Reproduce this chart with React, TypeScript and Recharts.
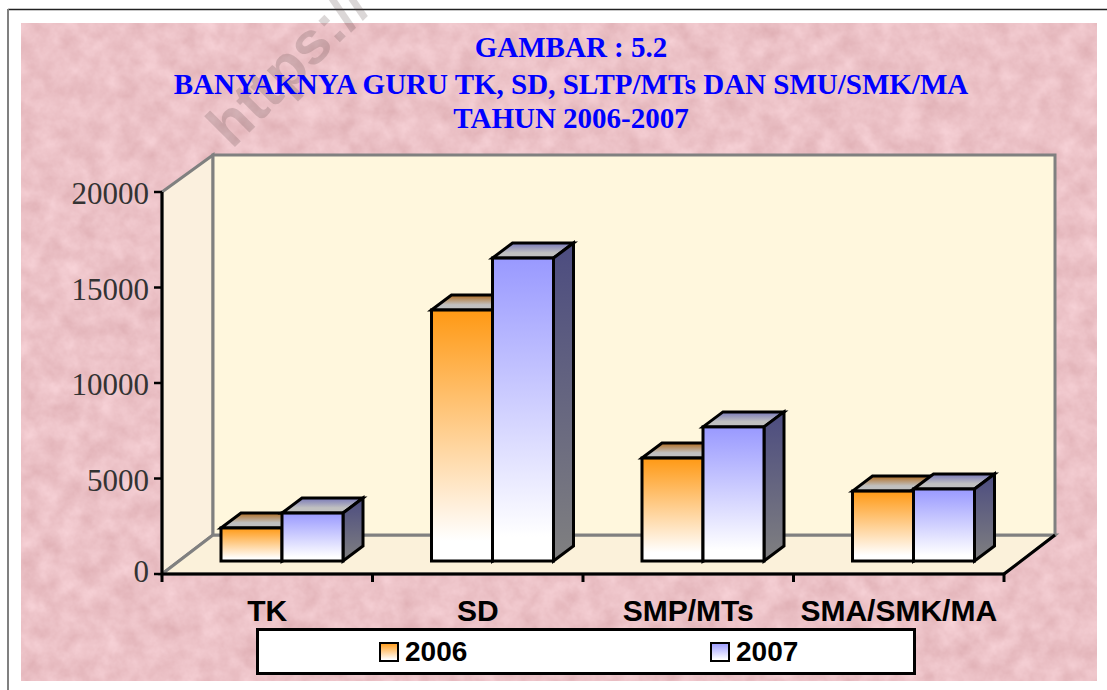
import { BarChart, Bar, XAxis, YAxis, Legend } from "recharts";

const categories = ["TK", "SD", "SMP/MTs", "SMA/SMK/MA"];
const values2006 = [1730, 13140, 5390, 3660];
const values2007 = [2510, 15860, 7020, 3770];
const yTicks = [0, 5000, 10000, 15000, 20000];
const titleLines = [
  "GAMBAR : 5.2",
  "BANYAKNYA GURU TK, SD, SLTP/MTs DAN SMU/SMK/MA",
  "TAHUN 2006-2007",
];

const tableData = categories.map((name, i) => ({
  name,
  y2006: values2006[i],
  y2007: values2007[i],
}));

const WIDTH = 1107;
const HEIGHT = 690;

// plot box, in page pixels
const LEFT = 162;
const RIGHT = 1004;
const TOP = 192;
const BOTTOM = 574;
const BAND = (RIGHT - LEFT) / categories.length;

// 3D look
const WALL_DX = 51;
const WALL_DY = 39;
const BAR_SHIFT_X = 15;
const BAR_SHIFT_Y = 13;
const BAR_DX = 20;
const BAR_DY = 15;

function poly(points: number[][]) {
  return points.map((p) => p.join(",")).join(" ");
}

function Backdrop() {
  const wallStroke = "#808080";
  return (
    <svg
      width={WIDTH}
      height={HEIGHT}
      style={{ position: "absolute", left: 0, top: 0 }}
    >
      <defs>
        <filter id="mottle" x="0" y="0" width="100%" height="100%" colorInterpolationFilters="sRGB">
          <feTurbulence type="fractalNoise" baseFrequency="0.05" numOctaves={4} seed={7} />
          <feColorMatrix
            type="matrix"
            values="0.11 0 0 0 0.87  0.16 0 0 0 0.68  0.16 0 0 0 0.70  0 0 0 0 1"
          />
        </filter>
      </defs>
      <rect width={WIDTH} height={HEIGHT} fill="#ffffff" />
      <line x1={8} y1={9.5} x2={WIDTH} y2={9.5} stroke="#222222" strokeWidth={1.5} />
      <line x1={8} y1={9} x2={8} y2={HEIGHT} stroke="#808080" strokeWidth={2} />
      <rect x={21} y={23} width={1076} height={658} filter="url(#mottle)" />
      <text
        x={232}
        y={150}
        transform="rotate(-45 232 150)"
        fontFamily="Liberation Sans"
        fontWeight="bold"
        fontSize={60}
        fill="#5a4a4a"
        fillOpacity={0.22}
      >
        https://
      </text>
      {/* left wall, floor, back wall */}
      <polygon
        points={poly([
          [LEFT, TOP],
          [LEFT + WALL_DX, TOP - WALL_DY + 2],
          [LEFT + WALL_DX, BOTTOM - WALL_DY],
          [LEFT, BOTTOM],
        ])}
        fill="#fbf0de"
        stroke={wallStroke}
        strokeWidth={3}
      />
      <polygon
        points={poly([
          [LEFT, BOTTOM],
          [RIGHT, BOTTOM],
          [RIGHT + WALL_DX, BOTTOM - WALL_DY],
          [LEFT + WALL_DX, BOTTOM - WALL_DY],
        ])}
        fill="#fbf1da"
        stroke={wallStroke}
        strokeWidth={3}
      />
      <rect
        x={LEFT + WALL_DX}
        y={TOP - WALL_DY + 2}
        width={RIGHT - LEFT}
        height={BOTTOM - TOP - 2}
        fill="#fff7dd"
        stroke={wallStroke}
        strokeWidth={3}
      />
      <line
        x1={RIGHT}
        y1={BOTTOM}
        x2={RIGHT + WALL_DX}
        y2={BOTTOM - WALL_DY}
        stroke="#000000"
        strokeWidth={3}
      />
    </svg>
  );
}

function Bar3D(props: any) {
  const { x, y, width, height, front, top } = props;
  const fx = x + BAR_SHIFT_X;
  const fy = y - BAR_SHIFT_Y;
  const fb = fy + height;
  const topFace = [
    [fx, fy],
    [fx + BAR_DX, fy - BAR_DY],
    [fx + width + BAR_DX, fy - BAR_DY],
    [fx + width, fy],
  ];
  const sideFace = [
    [fx + width, fy],
    [fx + width + BAR_DX, fy - BAR_DY],
    [fx + width + BAR_DX, fb - BAR_DY],
    [fx + width, fb],
  ];
  return (
    <g stroke="#000000" strokeWidth={3} strokeLinejoin="miter">
      <polygon points={poly(topFace)} fill={`url(#${top})`} />
      <polygon points={poly(sideFace)} fill="url(#sideShade)" />
      <rect x={fx} y={fy} width={width} height={height} fill={`url(#${front})`} />
    </g>
  );
}

function CategoryTick(props: any) {
  const { x, payload, index } = props;
  return (
    <g>
      <line x1={x - BAND / 2} y1={BOTTOM} x2={x - BAND / 2} y2={BOTTOM + 8} stroke="#000000" strokeWidth={3} />
      {index === categories.length - 1 && (
        <line x1={x + BAND / 2} y1={BOTTOM} x2={x + BAND / 2} y2={BOTTOM + 8} stroke="#000000" strokeWidth={3} />
      )}
      <text
        x={x}
        y={621}
        textAnchor="middle"
        fontFamily="Liberation Sans"
        fontWeight="bold"
        fontSize={30}
        fill="#000000"
      >
        {payload.value}
      </text>
    </g>
  );
}

function ValueTick(props: any) {
  const { x, y, payload } = props;
  // the lowest label sits a little above its tick in the reference
  const lift = payload.value === 0 ? 4 : 0;
  return (
    <text
      x={x}
      y={y - lift}
      dy={12}
      textAnchor="end"
      fontFamily="Liberation Serif"
      fontSize={31}
      fill="#333333"
    >
      {payload.value}
    </text>
  );
}

function LegendBox({ payload }: any) {
  return (
    <div
      style={{
        boxSizing: "border-box",
        width: 660,
        height: 47,
        background: "#ffffff",
        border: "3px solid #000000",
        display: "flex",
        alignItems: "center",
        fontFamily: "Liberation Sans",
        fontWeight: "bold",
        fontSize: 28,
        color: "#000000",
      }}
    >
      {(payload || []).map((entry: any) => (
        <div
          key={entry.value}
          style={{ flex: "0 0 331px", paddingLeft: 120, boxSizing: "border-box", display: "flex", alignItems: "center" }}
        >
          <svg width={20} height={20} style={{ marginRight: 6 }}>
            <rect
              x={1}
              y={1}
              width={18}
              height={18}
              fill={`url(#front${entry.value})`}
              stroke="#000000"
              strokeWidth={2}
            />
          </svg>
          {entry.value}
        </div>
      ))}
    </div>
  );
}

function Title() {
  const tops = [32, 69, 103];
  return (
    <>
      {titleLines.map((line, i) => (
        <div
          key={line}
          style={{
            position: "absolute",
            left: 0,
            width: 1142,
            top: tops[i],
            textAlign: "center",
            fontFamily: "Liberation Serif",
            fontWeight: "bold",
            fontSize: 29,
            lineHeight: "30px",
            color: "#0000ff",
            whiteSpace: "nowrap",
          }}
        >
          {line}
        </div>
      ))}
    </>
  );
}

export default function App() {
  return (
    <div style={{ position: "absolute", left: 0, top: 0, width: WIDTH, height: HEIGHT, overflow: "hidden" }}>
      <Backdrop />
      <Title />
      <div style={{ position: "absolute", left: 0, top: 0 }}>
        <BarChart
          width={WIDTH}
          height={HEIGHT}
          data={tableData}
          margin={{ left: LEFT - 100, right: WIDTH - RIGHT, top: TOP, bottom: HEIGHT - BOTTOM - 60 }}
          barCategoryGap={44}
          barGap={0}
        >
          <defs>
            <linearGradient id="front2006" x1="0" y1="0" x2="0" y2="1">
              <stop offset="0" stopColor="#ff9914" />
              <stop offset="0.92" stopColor="#ffffff" />
            </linearGradient>
            <linearGradient id="front2007" x1="0" y1="0" x2="0" y2="1">
              <stop offset="0" stopColor="#9999ff" />
              <stop offset="0.92" stopColor="#ffffff" />
            </linearGradient>
            <linearGradient id="top2006" x1="0" y1="0" x2="0" y2="1">
              <stop offset="0" stopColor="#b06c20" />
              <stop offset="0.65" stopColor="#c0c0c0" />
            </linearGradient>
            <linearGradient id="top2007" x1="0" y1="0" x2="0" y2="1">
              <stop offset="0" stopColor="#7878b8" />
              <stop offset="0.65" stopColor="#c0c0c0" />
            </linearGradient>
            <linearGradient id="sideShade" x1="0" y1="0" x2="0" y2="1">
              <stop offset="0" stopColor="#4c4c80" />
              <stop offset="1" stopColor="#808080" />
            </linearGradient>
          </defs>
          <XAxis
            dataKey="name"
            height={60}
            tick={<CategoryTick />}
            tickLine={false}
            interval={0}
            axisLine={{ stroke: "#000000", strokeWidth: 3 }}
          />
          <YAxis
            width={100}
            domain={[0, 20000]}
            ticks={yTicks}
            tickSize={8}
            tickMargin={5}
            interval={0}
            axisLine={{ stroke: "#000000", strokeWidth: 3 }}
            tickLine={{ stroke: "#000000", strokeWidth: 2.5 }}
            tick={<ValueTick />}
          />
          <Legend
            layout="horizontal"
            verticalAlign="middle"
            align="center"
            content={<LegendBox />}
            wrapperStyle={{ left: 256, top: 628, width: 660, height: 47, margin: 0 }}
          />
          <Bar
            dataKey="y2006"
            name="2006"
            isAnimationActive={false}
            shape={<Bar3D front="front2006" top="top2006" />}
          />
          <Bar
            dataKey="y2007"
            name="2007"
            isAnimationActive={false}
            shape={<Bar3D front="front2007" top="top2007" />}
          />
        </BarChart>
      </div>
    </div>
  );
}
